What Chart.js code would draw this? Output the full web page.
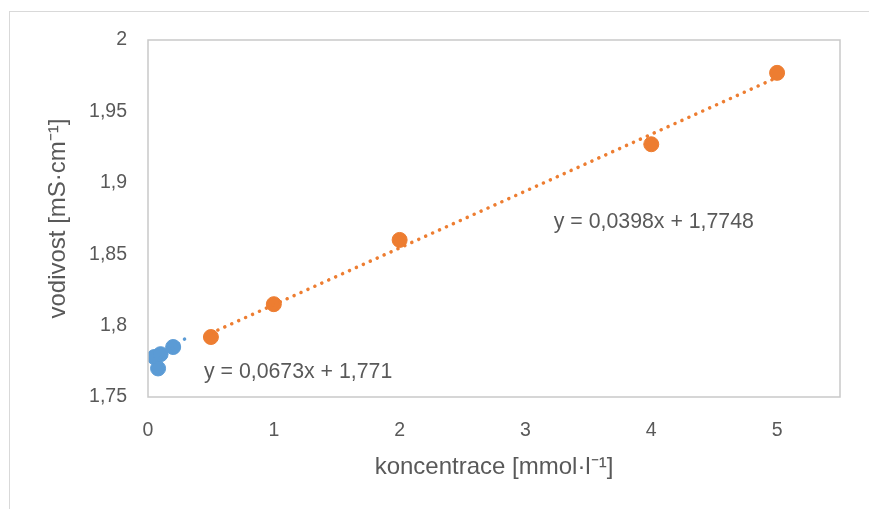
<!DOCTYPE html>
<html>
<head>
<meta charset="utf-8">
<script src="https://cdn.jsdelivr.net/npm/chart.js@4"></script>
<style>
  body { margin: 0; background: #fff; }
  #frame { position: absolute; left: 9px; top: 11px; width: 900px; height: 540px; border: 1px solid #d9d9d9; }
  #wrap { position: absolute; left: 0; top: 0; width: 869px; height: 509px; }
</style>
</head>
<body>
<div id="frame"></div>
<div id="wrap"><canvas id="chart-canvas"></canvas></div>
<script>
// data
let blueX = [0.05, 0.08, 0.1, 0.2];
let blueY = [1.778, 1.770, 1.780, 1.785];
let orangeX = [0.5, 1, 2, 4, 5];
let orangeY = [1.792, 1.815, 1.860, 1.927, 1.977];
let xTicks = [0, 1, 2, 3, 4, 5];
let yTicks = [1.75, 1.8, 1.85, 1.9, 1.95, 2];

// trendlines (slope, intercept, from, to)
let blueTrend = [0.0673, 1.771, 0.05, 0.33];
let orangeTrend = [0.0398, 1.7748, 0.5, 5];
let blueLabel = "y = 0,0673x + 1,771";
let orangeLabel = "y = 0,0398x + 1,7748";

let grey = "#595959";
let font = "'Liberation Sans', sans-serif";

function points(xs, ys) {
  return xs.map(function (x, i) { return { x: x, y: ys[i] }; });
}
function trend(t) {
  return [{ x: t[2], y: t[0] * t[2] + t[1] }, { x: t[3], y: t[0] * t[3] + t[1] }];
}
function comma(v) {
  return String(Math.round(v * 100) / 100).replace(".", ",");
}

let boxPlugin = {
  id: "box",
  afterDraw: function (c) {
    let ctx = c.ctx, a = c.chartArea;
    ctx.save();
    ctx.strokeStyle = "#c9c9c9";
    ctx.lineWidth = 1.5;
    ctx.strokeRect(a.left, a.top, a.right - a.left, a.bottom - a.top);
    // equation labels
    ctx.fillStyle = grey;
    ctx.font = "21.3px " + font;
    ctx.textBaseline = "middle";
    let xs = c.scales.x, ys = c.scales.y;
    ctx.fillText(blueLabel, xs.getPixelForValue(0.445), ys.getPixelForValue(1.7675));
    ctx.fillText(orangeLabel, xs.getPixelForValue(3.225), ys.getPixelForValue(1.8725));
    ctx.restore();
  }
};

let chart = document.getElementById("chart-canvas").getContext("2d");

let chart1 = new Chart(chart, {
  type: "scatter",
  data: {
    datasets: [
      {
        data: trend(blueTrend), showLine: true, pointRadius: 0,
        borderColor: "#5b9bd5", borderWidth: 3.5, borderDash: [0.1, 7.5], borderCapStyle: "round"
      },
      {
        data: trend(orangeTrend), showLine: true, pointRadius: 0,
        borderColor: "#ed7d31", borderWidth: 3.5, borderDash: [0.1, 7.5], borderCapStyle: "round"
      },
      {
        data: points(blueX, blueY), pointRadius: 7.5,
        backgroundColor: "#5b9bd5", borderColor: "#5b9bd5"
      },
      {
        data: points(orangeX, orangeY), pointRadius: 7.5,
        backgroundColor: "#ed7d31", borderColor: "#ed7d31"
      }
    ]
  },
  options: {
    responsive: true,
    maintainAspectRatio: false,
    animation: false,
    layout: { padding: { top: 40, right: 29, left: 0, bottom: 0 } },
    plugins: { legend: { display: false }, tooltip: { enabled: false } },
    scales: {
      x: {
        type: "linear", min: 0, max: 5.5,
        grid: { display: false, drawTicks: false },
        border: { display: false },
        afterBuildTicks: function (s) { s.ticks = xTicks.map(function (v) { return { value: v }; }); },
        afterFit: function (s) { s.height = 112; },
        ticks: { color: grey, font: { family: font, size: 19.5 }, padding: 22 },
        title: { display: true, text: "koncentrace [mmol·l⁻¹]", color: grey, font: { family: font, size: 24 }, padding: { top: 0, bottom: 27 } }
      },
      y: {
        min: 1.75, max: 2,
        grid: { display: false, drawTicks: false },
        border: { display: false },
        afterBuildTicks: function (s) { s.ticks = yTicks.map(function (v) { return { value: v }; }); },
        afterFit: function (s) { s.width = 148; },
        ticks: { color: grey, font: { family: font, size: 19.5 }, padding: 21, callback: comma },
        title: { display: true, text: "vodivost [mS·cm⁻¹]", color: grey, font: { family: font, size: 24 }, padding: { bottom: 0, top: 44 } }
      }
    }
  },
  plugins: [boxPlugin]
});
</script>
</body>
</html>
